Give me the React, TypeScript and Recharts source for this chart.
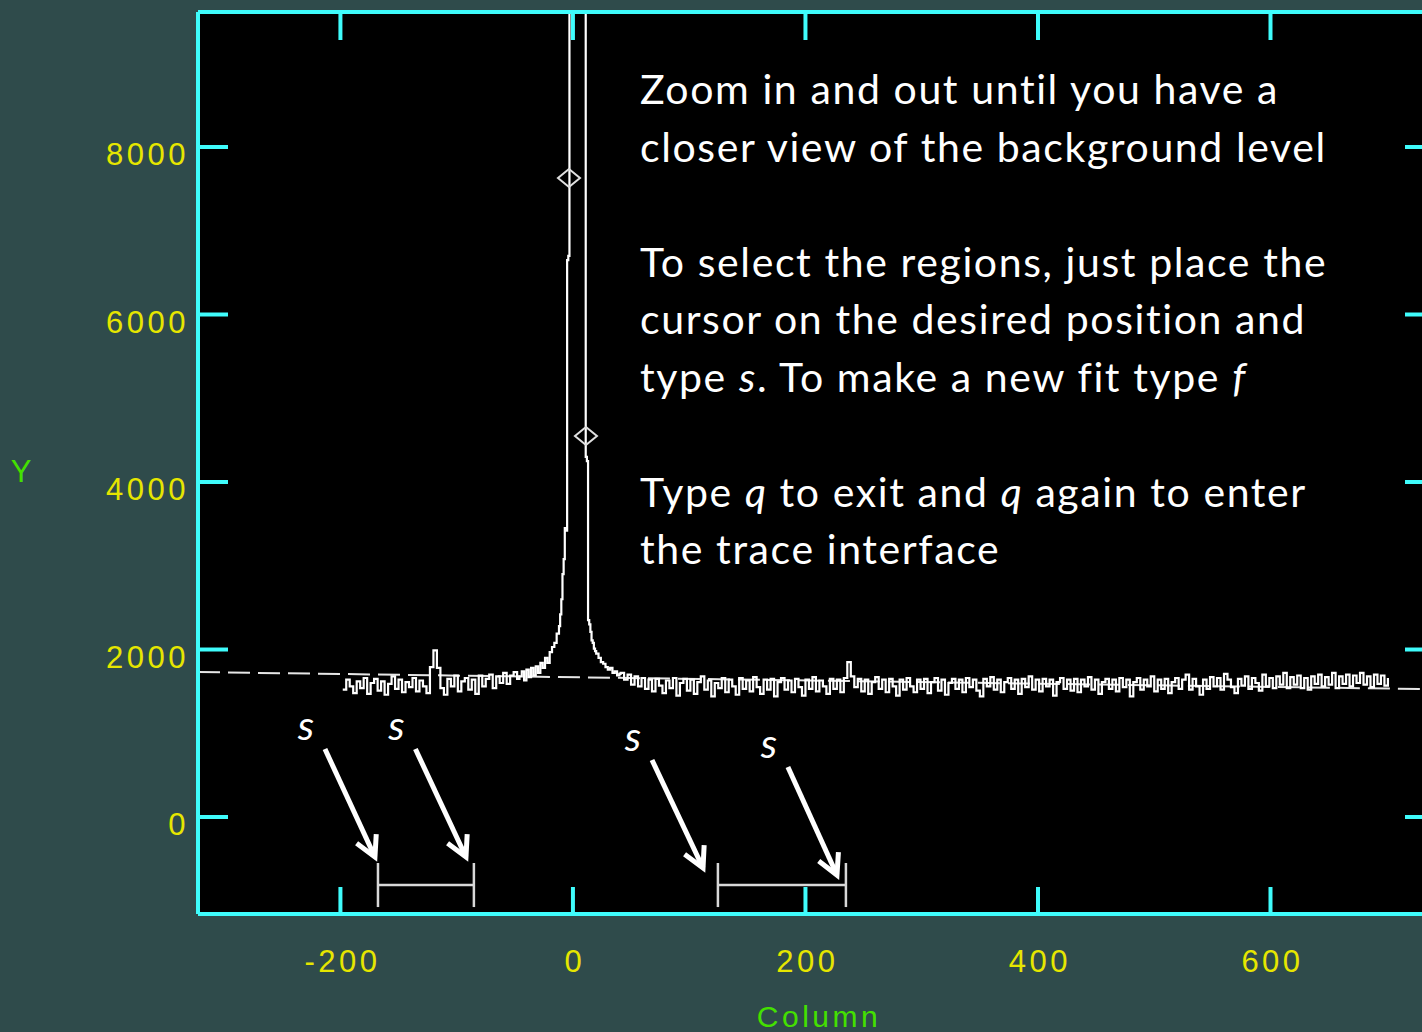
import React from 'react';
import { ComposedChart, Line, XAxis, YAxis, CartesianGrid, ReferenceLine, ReferenceDot } from 'recharts';

const SLATE = '#2f4b4b';
const CYAN = '#3ffcfc';
const YELLOW = '#e6e600';
const GREEN = '#44e000';
const TICK_FONT = '"Liberation Sans", sans-serif';
const NOTE_FONT = 'Lato, "Open Sans", sans-serif';

const xTicks = [-200, 0, 200, 400, 600];
const yTicks = [0, 2000, 4000, 6000, 8000];
const xDomain = [-322.5, 741.5];
const yDomain = [-1158, 9612];

// background left of the trace, one sample every 3 columns from column -198
const leftStart = -198;
const leftCounts = [
  1520, 1640, 1560, 1480, 1620, 1540, 1660, 1470, 1600, 1650,
  1510, 1620, 1460, 1590, 1680, 1530, 1640, 1490, 1610, 1550,
  1660, 1500, 1630, 1560, 1480, 1790, 1990, 1780, 1540, 1460,
  1650, 1560, 1690, 1500, 1620, 1660, 1520, 1640, 1470, 1690,
  1560, 1650, 1700, 1540, 1680, 1600, 1720, 1590, 1690, 1730,
  1650,
];

// the trace itself, column by column near the centre
const peakCols = [
  -46, -44, -42, -40, -38, -36, -34, -32, -30, -28, -26, -24, -22, -20, -18, -16, -14, -12,
  -11, -10, -9, -8, -7, -6, -5, -4, -3, -2, -1, 0, 1, 2, 3, 4, 5, 6, 7, 8, 9, 10,
  11, 12, 13, 14, 15, 16, 17, 18, 19, 20, 22, 24, 26, 28, 30, 32, 34, 36, 38, 40,
];
const peakCounts = [
  1680, 1740, 1630, 1760, 1670, 1780, 1690, 1800, 1720, 1840, 1780, 1900, 1840, 1970, 2030, 2080, 2190, 2280,
  2420, 2600, 2900, 3080, 3450, 3420, 6650, 6700, 11800, 17500, 23400, 27800, 29100, 28600, 26300, 23900, 21200, 18400, 15600, 13200, 11500, 10200,
  4300, 4250, 2350, 2300, 2210, 2110, 2080, 2010, 1980, 1950, 1900, 1850, 1830, 1790, 1760, 1780, 1720, 1740, 1690, 1710,
];

// background right of the trace, one sample every 3 columns from column 41
const rightStart = 41;
const rightCounts = [
  1720, 1640, 1700, 1580, 1680, 1560, 1660, 1530, 1640, 1500,
  1650, 1570, 1480, 1630, 1540, 1660, 1450, 1600, 1650, 1510,
  1640, 1470, 1610, 1680, 1520, 1630, 1440, 1600, 1540, 1660,
  1490, 1640, 1560, 1460, 1660, 1530, 1630, 1500, 1670, 1550,
  1470, 1640, 1520, 1650, 1440, 1610, 1660, 1520, 1630, 1490,
  1650, 1550, 1450, 1640, 1530, 1670, 1500, 1630, 1560, 1470,
  1650, 1530, 1640, 1490, 1660, 1850, 1680, 1550, 1650, 1500,
  1640, 1470, 1610, 1670, 1530, 1640, 1490, 1650, 1560, 1450,
  1640, 1520, 1660, 1560, 1490, 1640, 1530, 1650, 1480, 1610,
  1660, 1510, 1640, 1460, 1600, 1650, 1530, 1640, 1490, 1660,
  1550, 1640, 1510, 1440, 1650, 1560, 1670, 1520, 1640, 1490,
  1610, 1660, 1530, 1640, 1470, 1650, 1550, 1680, 1520, 1640,
  1500, 1650, 1560, 1640, 1450, 1610, 1660, 1530, 1640, 1510,
  1650, 1490, 1640, 1560, 1670, 1520, 1640, 1470, 1610, 1650,
  1530, 1640, 1500, 1660, 1550, 1640, 1440, 1610, 1660, 1520,
  1640, 1560, 1680, 1500, 1640, 1530, 1650, 1480, 1610, 1660,
  1530, 1640, 1700, 1520, 1650, 1560, 1460, 1640, 1530, 1670,
  1560, 1660, 1520, 1710, 1640, 1550, 1480, 1650, 1570, 1680,
  1530, 1660, 1600, 1510, 1700, 1560, 1660, 1540, 1680, 1580,
  1720, 1540, 1670, 1580, 1690, 1540, 1660, 1520, 1680, 1590,
  1700, 1560, 1670, 1580, 1720, 1540, 1680, 1590, 1700, 1560,
  1690, 1600, 1720, 1580, 1680, 1550, 1700, 1590, 1690, 1570,
  1660,
];

// background fit
const fitCols = [-322.5, 741.5];
const fitCounts = [1731, 1526];

// diamond markers on the trace edges
const markCols = [-3.4, 11.2];
const markCounts = [7630, 4550];

// sample regions chosen with 's'
const regionStarts = [-167.7, 124.7];
const regionEnds = [-85.2, 234.8];
const regionBar = -812;
const regionTop = -549;
const regionBottom = -1075;

// arrows from each 's' to a region edge
const arrowFrom = [[-213.3, 812], [-135.5, 812], [68.0, 681], [184.9, 597]];
const arrowTo = [[-170.3, -478], [-92.0, -478], [111.9, -609], [227.1, -693]];

const noteLines = [
  'Zoom in and out until you have a',
  'closer view of the background level',
  '',
  'To select the regions, just place the',
  'cursor on the desired position and',
  'type *s*. To make a new fit type *f*',
  '',
  'Type *q* to exit and *q* again to enter',
  'the trace interface',
];

const profile = [
  ...leftCounts.map((v, i) => ({ col: leftStart + 3 * i, counts: v })),
  ...peakCols.map((c, i) => ({ col: c, counts: peakCounts[i] })),
  ...rightCounts.map((v, i) => ({ col: rightStart + 3 * i, counts: v })),
];
const fitLine = fitCols.map((c, i) => ({ col: c, counts: fitCounts[i] }));

const tickText = { fill: YELLOW, fontFamily: TICK_FONT, fontSize: 31, letterSpacing: 3.5 };

const BottomTick = ({ x, y, payload }: any) => (
  <g>
    <line x1={x} y1={y} x2={x} y2={y - 27} stroke={CYAN} strokeWidth={4} />
    <text x={x + 2} y={y + 58} textAnchor="middle" {...tickText}>{payload.value}</text>
  </g>
);

const TopTick = ({ x, y }: any) => <line x1={x} y1={y} x2={x} y2={y + 28} stroke={CYAN} strokeWidth={4} />;

const LeftTick = ({ x, y, payload }: any) => (
  <g>
    <line x1={x} y1={y} x2={x + 30} y2={y} stroke={CYAN} strokeWidth={4} />
    <text x={x - 9} y={y + 18} textAnchor="end" {...tickText}>{payload.value}</text>
  </g>
);

const RightTick = ({ x, y }: any) => <line x1={x} y1={y} x2={x - 30} y2={y} stroke={CYAN} strokeWidth={4} />;

const Diamond = ({ cx, cy }: any) => (
  <path
    d={`M${cx - 11},${cy} L${cx},${cy - 9} L${cx + 11},${cy} L${cx},${cy + 9} Z`}
    fill="none"
    stroke="#e0e0e0"
    strokeWidth={2}
  />
);

// arrow with an open head and an italic "s" above its tail
const Arrow = ({ x1, y1, x2, y2 }: any) => {
  const len = Math.hypot(x2 - x1, y2 - y1);
  const bx = (x1 - x2) / len;
  const by = (y1 - y2) / len;
  const arm = (a: number) => [
    x2 + 23 * (bx * Math.cos(a) - by * Math.sin(a)),
    y2 + 23 * (bx * Math.sin(a) + by * Math.cos(a)),
  ];
  const [ax, ay] = arm(0.49);
  const [cx, cy] = arm(-0.49);
  return (
    <g>
      <line x1={x1} y1={y1} x2={x2} y2={y2} stroke="#fff" strokeWidth={5} />
      <polyline points={`${ax},${ay} ${x2},${y2} ${cx},${cy}`} fill="none" stroke="#fff" strokeWidth={5} />
      <text x={x1 - 19} y={y1 - 9} textAnchor="middle" fill="#fff" fontFamily={NOTE_FONT} fontStyle="italic" fontSize={41}>
        s
      </text>
    </g>
  );
};

const bracketLine = { stroke: '#d8d8d8', strokeWidth: 2.5, ifOverflow: 'visible' as const };

export default function App() {
  return (
    <div style={{ position: 'absolute', left: 0, top: 0, width: 1422, height: 1032, overflow: 'hidden', background: SLATE }}>
      <ComposedChart width={1480} height={1032} margin={{ top: 11, right: 44, bottom: 0, left: 0 }}>
        <CartesianGrid horizontal={false} vertical={false} fill="#000" fillOpacity={1} />
        <XAxis
          type="number"
          dataKey="col"
          domain={xDomain}
          ticks={xTicks}
          interval={0}
          allowDataOverflow
          height={118}
          axisLine={{ stroke: CYAN, strokeWidth: 4 }}
          tickLine={false}
          tickSize={0}
          tickMargin={0}
          tick={BottomTick}
        />
        <XAxis
          xAxisId="top"
          orientation="top"
          type="number"
          dataKey="col"
          domain={xDomain}
          ticks={xTicks}
          interval={0}
          allowDataOverflow
          height={1}
          axisLine={{ stroke: CYAN, strokeWidth: 4 }}
          tickLine={false}
          tickSize={0}
          tickMargin={0}
          tick={TopTick}
        />
        <YAxis
          type="number"
          dataKey="counts"
          domain={yDomain}
          ticks={yTicks}
          interval={0}
          allowDataOverflow
          width={198}
          axisLine={{ stroke: CYAN, strokeWidth: 4 }}
          tickLine={false}
          tickSize={0}
          tickMargin={0}
          tick={LeftTick}
        />
        <YAxis
          yAxisId="right"
          orientation="right"
          type="number"
          dataKey="counts"
          domain={yDomain}
          ticks={yTicks}
          interval={0}
          allowDataOverflow
          width={1}
          axisLine={{ stroke: CYAN, strokeWidth: 4 }}
          tickLine={false}
          tickSize={0}
          tickMargin={0}
          tick={RightTick}
        />
        <Line
          data={fitLine}
          dataKey="counts"
          stroke="#e6e6e6"
          strokeWidth={2}
          strokeDasharray="22 8"
          dot={false}
          isAnimationActive={false}
        />
        <Line
          data={profile}
          dataKey="counts"
          type="stepAfter"
          stroke="#fff"
          strokeWidth={2.2}
          dot={false}
          isAnimationActive={false}
        />
        {markCols.map((c, i) => (
          <ReferenceDot key={`m${i}`} x={c} y={markCounts[i]} r={9} shape={Diamond} />
        ))}
        {regionStarts.map((s, i) => (
          <React.Fragment key={`r${i}`}>
            <ReferenceLine segment={[{ x: s, y: regionBar }, { x: regionEnds[i], y: regionBar }]} {...bracketLine} />
            <ReferenceLine segment={[{ x: s, y: regionTop }, { x: s, y: regionBottom }]} {...bracketLine} />
            <ReferenceLine segment={[{ x: regionEnds[i], y: regionTop }, { x: regionEnds[i], y: regionBottom }]} {...bracketLine} />
          </React.Fragment>
        ))}
        {arrowFrom.map((a, i) => (
          <ReferenceLine
            key={`a${i}`}
            segment={[{ x: a[0], y: a[1] }, { x: arrowTo[i][0], y: arrowTo[i][1] }]}
            ifOverflow="visible"
            shape={Arrow}
          />
        ))}
      </ComposedChart>
      <svg width={1422} height={1032} style={{ position: 'absolute', left: 0, top: 0, pointerEvents: 'none' }}>
        <text x={21} y={482} textAnchor="middle" fill={GREEN} fontFamily={TICK_FONT} fontSize={31}>Y</text>
        <text x={819} y={1027} textAnchor="middle" fill={GREEN} fontFamily={TICK_FONT} fontSize={30} letterSpacing={3.5}>
          Column
        </text>
        {noteLines.map((line, i) => (
          <text key={i} x={640} y={104 + i * 57.5} fill="#fff" fontFamily={NOTE_FONT} fontSize={41} letterSpacing={1.6}>
            {line.split('*').map((part, j) => (
              <tspan key={j} fontStyle={j % 2 ? 'italic' : 'normal'}>{part}</tspan>
            ))}
          </text>
        ))}
      </svg>
    </div>
  );
}
